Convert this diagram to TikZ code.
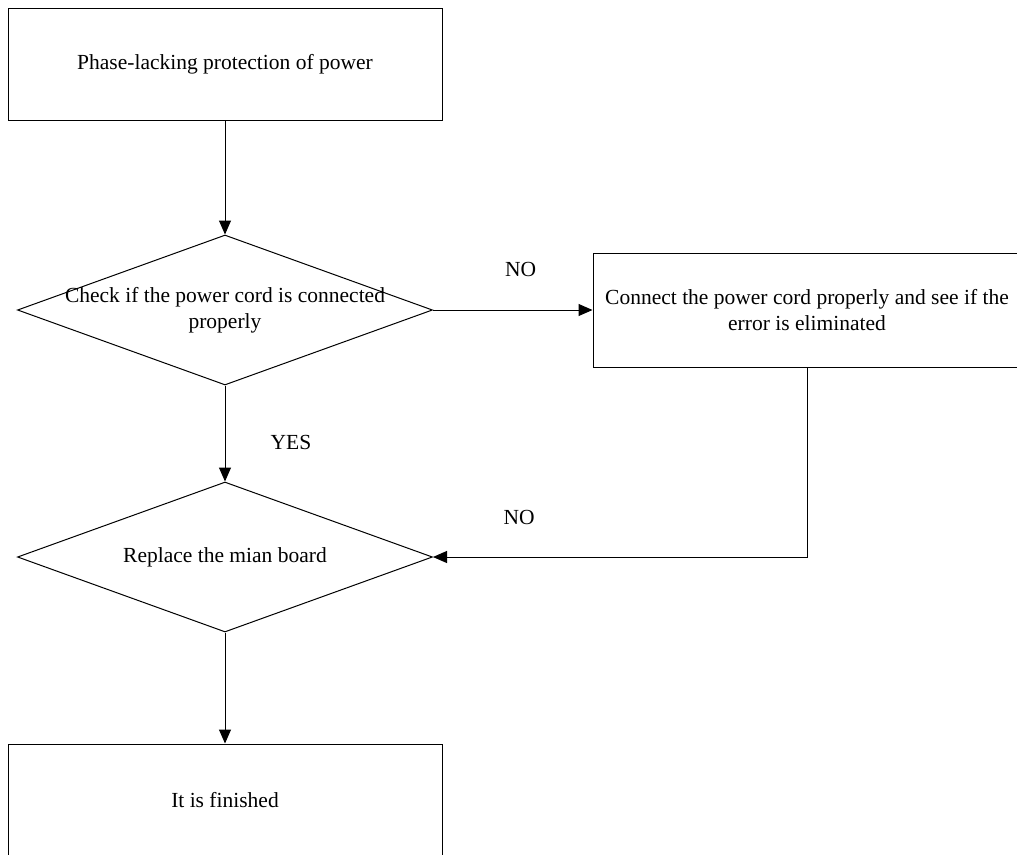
\documentclass[tikz,border=0pt]{standalone}
\usepackage{fontspec}
\setmainfont{Liberation Serif}
\usetikzlibrary{arrows.meta,shapes.geometric}
\begin{document}
\begin{tikzpicture}[x=1pt,y=-1pt,
  every node/.style={font=\fontsize{21.5}{26}\selectfont},
  box/.style={draw, line width=1pt, rectangle, minimum width=434pt, minimum height=112pt, align=center, inner sep=0pt},
  dia/.style={draw, line width=1pt, diamond, minimum width=415pt, minimum height=150pt, inner sep=0pt},
  txt/.style={align=center, inner sep=0pt},
  lbl/.style={inner sep=0pt},
  arr/.style={line width=1pt, -{Triangle[length=14pt,width=12pt]}}]
\useasboundingbox (0,0) rectangle (1017,854);
\clip (0,0) rectangle (1017,854);
\fill[white] (0,0) rectangle (1017,854);

\node[box] (start) at (225,64) {Phase-lacking protection of power};
\node[dia] (d1) at (225,310) {};
\node[txt] (t1) at (d1.center) {Check if the power cord is connected\\properly};
\node[box, minimum width=428pt, minimum height=114pt] (fix) at (807,310) {Connect the power cord properly and see if the\\error is eliminated};
\node[dia] (d2) at (225,557) {};
\node[txt] (t2) at (d2.center) {Replace the mian board};
\node[box] (end) at (225,800) {It is finished};

\draw[arr] (start) -- (d1);
\draw[arr] (d1) -- (fix) node[lbl, pos=0.55, yshift=41pt] {NO};
\draw[arr] (d1) -- (d2) node[lbl, pos=0.59, xshift=66pt] {YES};
\draw[arr] (fix.south) |- (d2.east) node[lbl, pos=0.885, yshift=40pt] {NO};
\draw[arr] (d2) -- (end);
\end{tikzpicture}
\end{document}
